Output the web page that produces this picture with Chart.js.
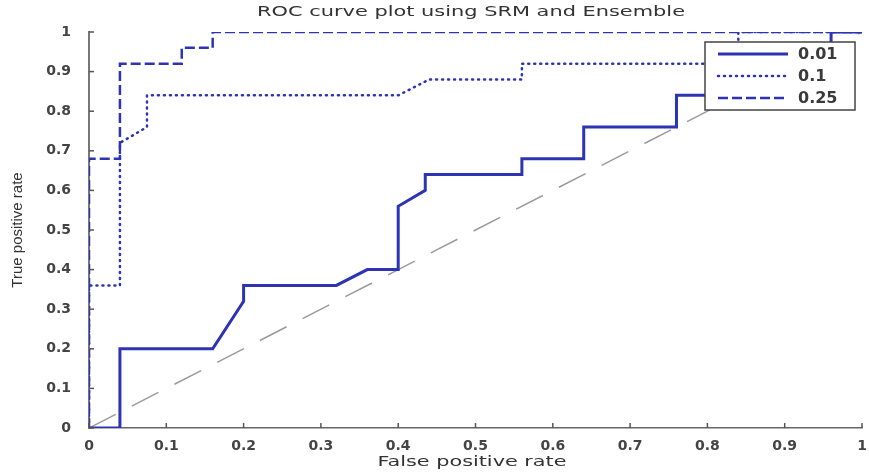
<!DOCTYPE html>
<html>
<head>
<meta charset="utf-8">
<script src="https://cdn.jsdelivr.net/npm/chart.js@4.4.1/dist/chart.umd.min.js"></script>
<style>
  html, body { margin: 0; padding: 0; background: #fff; }
  #wrap { width: 869px; height: 473px; }
</style>
</head>
<body>
<div id="wrap"><canvas id="rocChart" width="869" height="473"></canvas></div>
<script>
// --- dados ---
const seriesLabels = ['0.01', '0.1', '0.25'];

const fpr001 = [0, 0.04, 0.04, 0.16, 0.2, 0.2, 0.32, 0.36, 0.4, 0.4, 0.435, 0.435, 0.56, 0.56, 0.64, 0.64, 0.76, 0.76, 0.8, 0.8, 0.96, 0.96, 1];
const tpr001 = [0, 0, 0.2, 0.2, 0.32, 0.36, 0.36, 0.4, 0.4, 0.56, 0.6, 0.64, 0.64, 0.68, 0.68, 0.76, 0.76, 0.84, 0.84, 0.92, 0.92, 1, 1];

const fpr01 = [0, 0, 0.04, 0.04, 0.075, 0.075, 0.4, 0.44, 0.56, 0.56, 0.84, 0.84, 1];
const tpr01 = [0, 0.36, 0.36, 0.72, 0.76, 0.84, 0.84, 0.88, 0.88, 0.92, 0.92, 1, 1];

const fpr025 = [0, 0, 0.04, 0.04, 0.12, 0.12, 0.16, 0.16, 1];
const tpr025 = [0, 0.68, 0.68, 0.92, 0.92, 0.96, 0.96, 1, 1];

const fprRef = [0, 1];
const tprRef = [0, 1];

const axisTicks = [0, 0.1, 0.2, 0.3, 0.4, 0.5, 0.6, 0.7, 0.8, 0.9, 1];
const tickLabels = ['0', '0.1', '0.2', '0.3', '0.4', '0.5', '0.6', '0.7', '0.8', '0.9', '1'];

const chartTitle = 'ROC curve plot using SRM and Ensemble';
const xTitle = 'False positive rate';

const toPoints = (xs, ys) => xs.map((x, i) => ({ x: x, y: ys[i] }));

const blue = '#2c34b4';

// texto largo (a figura original está esticada na horizontal)
function wideText(ctx, text, cx, cy, size, targetW) {
  ctx.save();
  ctx.font = size + 'px "DejaVu Sans", sans-serif';
  const w = ctx.measureText(text).width;
  const sx = targetW / w;
  ctx.translate(cx, cy);
  ctx.scale(sx, 1);
  ctx.fillStyle = '#333';
  ctx.textAlign = 'center';
  ctx.textBaseline = 'middle';
  ctx.fillText(text, 0, 0);
  ctx.restore();
}

const extras = {
  id: 'extras',
  // legenda desenhada por cima das curvas (como no MATLAB)
  afterDatasetsDraw(chart) {
    const { ctx, chartArea } = chart;
    const w = 150, h = 68;
    const left = chartArea.right - 157;
    const top = chartArea.top + 10;
    ctx.save();
    ctx.fillStyle = '#fff';
    ctx.fillRect(left, top, w, h);
    ctx.strokeStyle = '#444';
    ctx.lineWidth = 1.5;
    ctx.strokeRect(left, top, w, h);
    seriesLabels.forEach((lab, i) => {
      const ds = chart.data.datasets[i];
      const y = top + 12 + i * 22;
      ctx.beginPath();
      ctx.strokeStyle = ds.borderColor;
      ctx.lineWidth = ds.borderWidth;
      ctx.lineCap = ds.borderCapStyle || 'butt';
      ctx.setLineDash(ds.borderDash || []);
      ctx.moveTo(left + 13, y);
      ctx.lineTo(left + 83, y);
      ctx.stroke();
      ctx.setLineDash([]);
      ctx.fillStyle = '#3a3a3a';
      ctx.font = 'bold 16px "DejaVu Sans", sans-serif';
      ctx.textBaseline = 'middle';
      ctx.fillText(lab, left + 93, y + 1);
    });
    ctx.restore();
  },
  afterDraw(chart) {
    const { ctx, chartArea, scales } = chart;
    // marcas dos eixos para dentro
    ctx.save();
    ctx.strokeStyle = '#555';
    ctx.lineWidth = 1.5;
    axisTicks.forEach(v => {
      const px = scales.x.getPixelForValue(v);
      ctx.beginPath();
      ctx.moveTo(px, chartArea.bottom);
      ctx.lineTo(px, chartArea.bottom - 5);
      ctx.stroke();
      const py = scales.y.getPixelForValue(v);
      ctx.beginPath();
      ctx.moveTo(chartArea.left, py);
      ctx.lineTo(chartArea.left + 5, py);
      ctx.stroke();
    });
    ctx.restore();
    // títulos
    wideText(ctx, chartTitle, 471, 12, 14, 428);
    wideText(ctx, xTitle, 472, 462, 14, 189);
  }
};

const ctx = document.getElementById('rocChart').getContext('2d');
new Chart(ctx, {
  type: 'line',
  data: {
    datasets: [
      {
        label: seriesLabels[0],
        data: toPoints(fpr001, tpr001),
        borderColor: blue,
        borderWidth: 3,
        pointRadius: 0,
        tension: 0
      },
      {
        label: seriesLabels[1],
        data: toPoints(fpr01, tpr01),
        borderColor: blue,
        borderWidth: 2.5,
        borderDash: [1, 5],
        borderCapStyle: 'round',
        pointRadius: 0,
        tension: 0
      },
      {
        label: seriesLabels[2],
        data: toPoints(fpr025, tpr025),
        borderColor: blue,
        borderWidth: 2.5,
        borderDash: [10, 4],
        pointRadius: 0,
        tension: 0
      },
      {
        label: 'ref',
        data: toPoints(fprRef, tprRef),
        borderColor: '#9a9a9a',
        borderWidth: 1.5,
        borderDash: [30, 18],
        pointRadius: 0,
        tension: 0
      }
    ]
  },
  options: {
    responsive: false,
    animation: false,
    layout: { padding: { left: 0, right: 7, top: 32, bottom: 0 } },
    plugins: {
      legend: { display: false },
      tooltip: { enabled: false },
      title: { display: false }
    },
    scales: {
      x: {
        type: 'linear',
        min: 0,
        max: 1,
        afterFit: (scale) => { scale.height = 45; },
        afterBuildTicks: (scale) => { scale.ticks = axisTicks.map(v => ({ value: v })); },
        grid: { display: false },
        border: { display: true, color: '#666', width: 1.5 },
        ticks: {
          color: '#444',
          padding: 2,
          maxRotation: 0,
          font: { family: '"DejaVu Sans", sans-serif', size: 14, weight: 'bold' },
          callback: (v) => tickLabels[axisTicks.indexOf(v)]
        },
        title: { display: false }
      },
      y: {
        type: 'linear',
        min: 0,
        max: 1,
        afterFit: (scale) => { scale.width = 89; },
        afterBuildTicks: (scale) => { scale.ticks = axisTicks.map(v => ({ value: v })); },
        grid: { display: false },
        border: { display: true, color: '#777', width: 2 },
        ticks: {
          color: '#444',
          padding: 10,
          font: { family: '"DejaVu Sans", sans-serif', size: 14, weight: 'bold' },
          callback: (v) => tickLabels[axisTicks.indexOf(v)]
        },
        title: {
          display: true,
          text: 'True positive rate',
          color: '#333',
          font: { family: '"Liberation Sans Narrow", "Liberation Sans", sans-serif', size: 15 },
          padding: { top: 9, bottom: 0 }
        }
      }
    }
  },
  plugins: [extras]
});
</script>
</body>
</html>
